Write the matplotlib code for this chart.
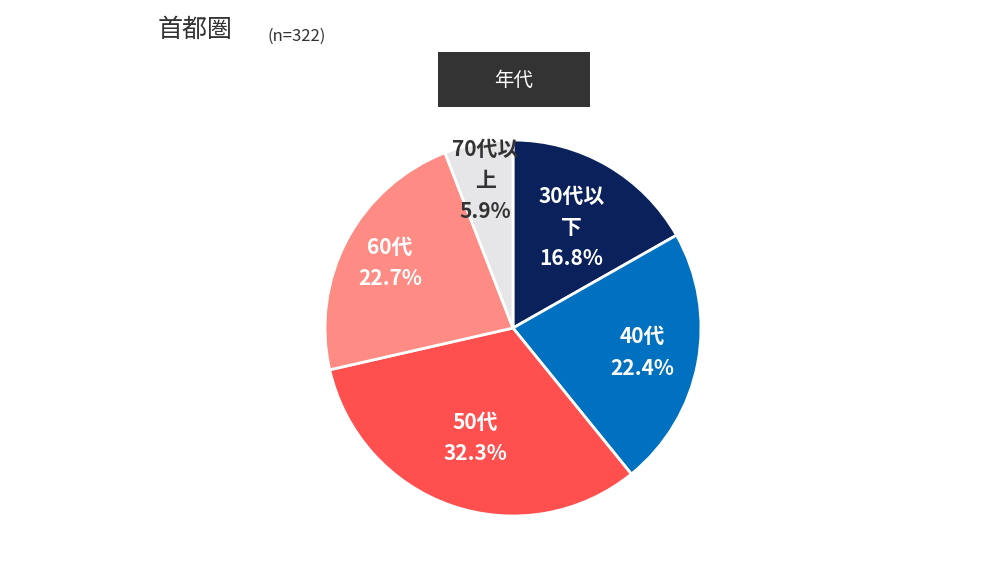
import numpy as np
import matplotlib.pyplot as plt
from matplotlib.patches import Rectangle

plt.rcParams['font.family'] = ['Noto Sans CJK JP', 'DejaVu Sans']

# Data
categories = ['30代以\n下', '40代', '50代', '60代', '70代以\n上']
values = [16.8, 22.4, 32.3, 22.7, 5.9]
colors = ['#0b215c', '#0070c0', '#ff4f4f', '#ff8c84', '#e6e6e8']
text_colors = ['white', 'white', 'white', 'white', '#333333']
label_dist = [0.62, 0.70, 0.62, 0.74, 0.80]

W, H = 982, 572
fig = plt.figure(figsize=(W / 100, H / 100), dpi=100)
ax = fig.add_axes([0, 0, 1, 1])
ax.set_xlim(0, W)
ax.set_ylim(0, H)
ax.axis('off')

cx, cy, r = 513, H - 328, 188
wedges, _ = ax.pie(values, colors=colors, startangle=90, counterclock=False,
                   center=(cx, cy), radius=r, frame=True,
                   wedgeprops=dict(edgecolor='white', linewidth=2))
ax.set_xlim(0, W)
ax.set_ylim(0, H)
ax.set_aspect('equal')
ax.axis('off')

for w, cat, v, tc, d in zip(wedges, categories, values, text_colors, label_dist):
    ang = np.deg2rad((w.theta1 + w.theta2) / 2)
    x = cx + d * r * np.cos(ang)
    y = cy + d * r * np.sin(ang)
    ax.text(x, y, f'{cat}\n{v:.1f}%', ha='center', va='center', color=tc,
            fontsize=15, fontweight='bold', linespacing=1.6)

# Title
ax.text(158, H - 30, '首都圏', fontsize=18, color='#333333', va='center', ha='left')
ax.text(268, H - 36, '(n=322)', fontsize=12, color='#333333', va='center', ha='left')

# Header box
ax.add_patch(Rectangle((438, H - 107), 152, 55, facecolor='#333333', edgecolor='none'))
ax.text(514, H - 80, '年代', fontsize=14, color='white', ha='center', va='center')

plt.savefig('out.png', dpi=100, facecolor='w')
